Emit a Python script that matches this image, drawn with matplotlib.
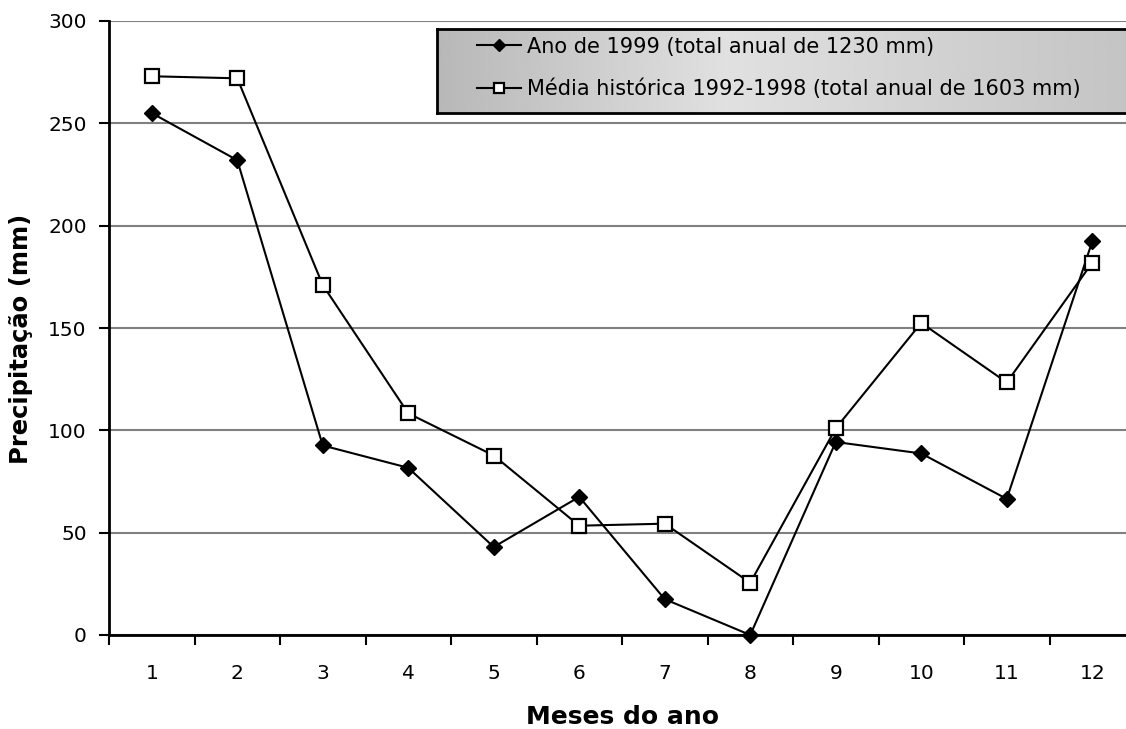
import numpy as np
import matplotlib.pyplot as plt
from matplotlib.ticker import FixedLocator, NullFormatter

# data
months = [1, 2, 3, 4, 5, 6, 7, 8, 9, 10, 11, 12]
month_labels = ['1', '2', '3', '4', '5', '6', '7', '8', '9', '10', '11', '12']
rain_1999 = [255, 232, 92.6, 81.7, 43, 67.5, 17.5, 0, 94.3, 88.7, 66.5, 192.3]
rain_hist = [273, 272, 171, 108.3, 87.7, 53.4, 54.4, 25.5, 101, 152.5, 123.4, 181.9]
label_1999 = 'Ano de 1999 (total anual de 1230 mm)'
label_hist = 'Média histórica 1992-1998 (total anual de 1603 mm)'

W, H = 1126, 729
fig = plt.figure(figsize=(W / 100, H / 100), dpi=100)

# plot area runs past the right edge of the picture, like the original
ax = fig.add_axes([109 / W, 1 - 635 / H, 1026 / W, 614 / H])

ax.plot(months, rain_1999, color='black', lw=1.5, marker='D', ms=8.5,
        mfc='black', mec='black', label=label_1999, zorder=3, clip_on=False)
ax.plot(months, rain_hist, color='black', lw=1.5, marker='s', ms=10.5,
        mfc='white', mec='black', mew=1.6, label=label_hist, zorder=3, clip_on=False)

ax.set_xlim(0.5, 12.5)
ax.set_ylim(0, 300)
ax.set_yticks(range(0, 301, 50))
ax.yaxis.grid(True, color='#808080', lw=1.5)
ax.set_axisbelow(True)

# ticks between categories, labels at category centres
ax.xaxis.set_major_locator(FixedLocator(np.arange(0.5, 13, 1)))
ax.xaxis.set_major_formatter(NullFormatter())
ax.xaxis.set_minor_locator(FixedLocator(months))
ax.set_xticklabels(month_labels, minor=True)
ax.tick_params(axis='x', which='major', length=7, width=1.5, direction='out')
ax.tick_params(axis='x', which='minor', length=0, pad=21, labelsize=14.5)
ax.tick_params(axis='y', length=7, width=1.5, direction='out', labelsize=14.5, pad=9)

for side in ['top', 'right']:
    ax.spines[side].set_visible(False)
for side in ['left', 'bottom']:
    ax.spines[side].set_linewidth(2)

ax.set_xlabel('Meses do ano', fontsize=18, fontweight='bold', labelpad=16)
ax.set_ylabel('Precipitação (mm)', fontsize=17.5, fontweight='bold')
ax.yaxis.set_label_coords(-0.074, 0.482)

# legend box with grey gradient
lax = fig.add_axes([437 / W, 1 - 113 / H, 720 / W, 84 / H], zorder=2)
grad = np.interp(np.linspace(0, 1, 300), [0, 0.4, 1], [0.72, 0.88, 0.76])
lax.imshow(grad[np.newaxis, :], cmap='gray', vmin=0, vmax=1, aspect='auto',
           extent=[0, 1, 0, 1])
lax.set_xticks([])
lax.set_yticks([])
for s in lax.spines.values():
    s.set_linewidth(2)
    s.set_color('black')

handles, labels = ax.get_legend_handles_labels()
leg = fig.legend(handles, labels, loc='upper left',
                 bbox_to_anchor=(458 / W, 1 - 18 / H), frameon=False,
                 fontsize=15, handlelength=2.1, handletextpad=0.3,
                 labelspacing=1.05, markerscale=0.75)
leg.set_zorder(5)

plt.savefig('out.png', dpi=100, facecolor='white')
